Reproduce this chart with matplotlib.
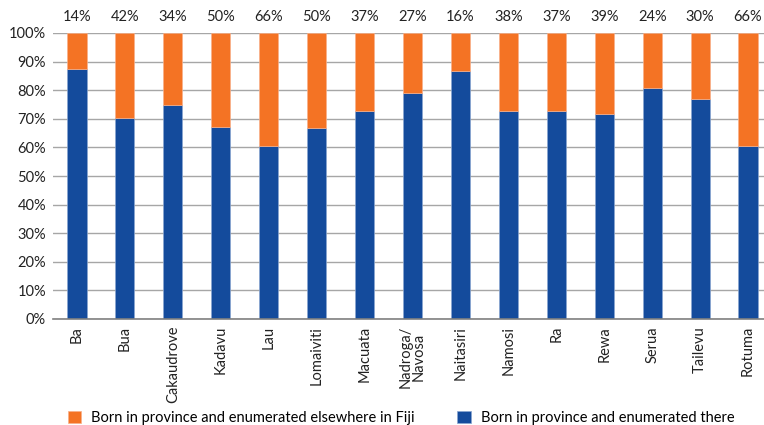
import matplotlib.pyplot as plt
import numpy as np

provinces = ["Ba", "Bua", "Cakaudrove", "Kadavu", "Lau", "Lomaiviti", "Macuata",
             "Nadroga/\nNavosa", "Naitasiri", "Namosi", "Ra", "Rewa", "Serua",
             "Tailevu", "Rotuma"]
# share born in province and enumerated there (%)
stayed = [87.4, 70.3, 74.8, 67.2, 60.6, 66.7, 72.8, 78.9, 86.6, 72.8, 72.8, 71.7,
          80.9, 76.9, 60.6]
top_labels = ["14%", "42%", "34%", "50%", "66%", "50%", "37%", "27%", "16%", "38%",
              "37%", "39%", "24%", "30%", "66%"]

moved = [100 - s for s in stayed]

plt.rcParams['font.family'] = ['Lato', 'DejaVu Sans']
blue = "#144b9c"
orange = "#f47324"

fig = plt.figure(figsize=(7.64, 4.25), dpi=100)
ax = fig.add_axes([53 / 764, 1 - 319 / 425, (772 - 53) / 764, (319 - 33) / 425])

x = np.arange(len(provinces))
b1 = ax.bar(x, stayed, width=0.4, color=blue, edgecolor="#8aa6d0", linewidth=0.5, zorder=3,
            label="Born in province and enumerated there")
b2 = ax.bar(x, moved, bottom=stayed, width=0.4, color=orange, edgecolor="#f8b08a",
            linewidth=0.5, zorder=3, label="Born in province and enumerated elsewhere in Fiji")

for xi, lab in zip(x, top_labels):
    ax.text(xi, 103.3, lab, ha="center", va="bottom", fontsize=10.5, color="#222222")

ax.set_xlim(-0.5, len(provinces) - 0.5)
ax.set_ylim(0, 100)
ax.set_yticks(range(0, 101, 10))
ax.set_yticklabels([f"{v}%" for v in range(0, 101, 10)], fontsize=10.5, color="#222222")
ax.set_xticks(x)
ax.set_xticklabels(provinces, rotation=90, fontsize=10.5, color="#222222", linespacing=0.9)
ax.tick_params(axis="both", length=0, pad=5)
ax.grid(axis="y", color="#a6a6a6", linewidth=1, zorder=0)
for s in ["top", "right", "left"]:
    ax.spines[s].set_visible(False)
ax.spines["bottom"].set_color("#808080")
ax.spines["bottom"].set_linewidth(1.2)
ax.spines["bottom"].set_zorder(4)

fig.legend(handles=[b2, b1], loc="center left", bbox_to_anchor=(0.072, 0.017), ncol=2,
           frameon=False, fontsize=10.5, handlelength=0.9, handleheight=0.9,
           columnspacing=2.9, handletextpad=0.7)

fig.savefig("out.png", dpi=100)
